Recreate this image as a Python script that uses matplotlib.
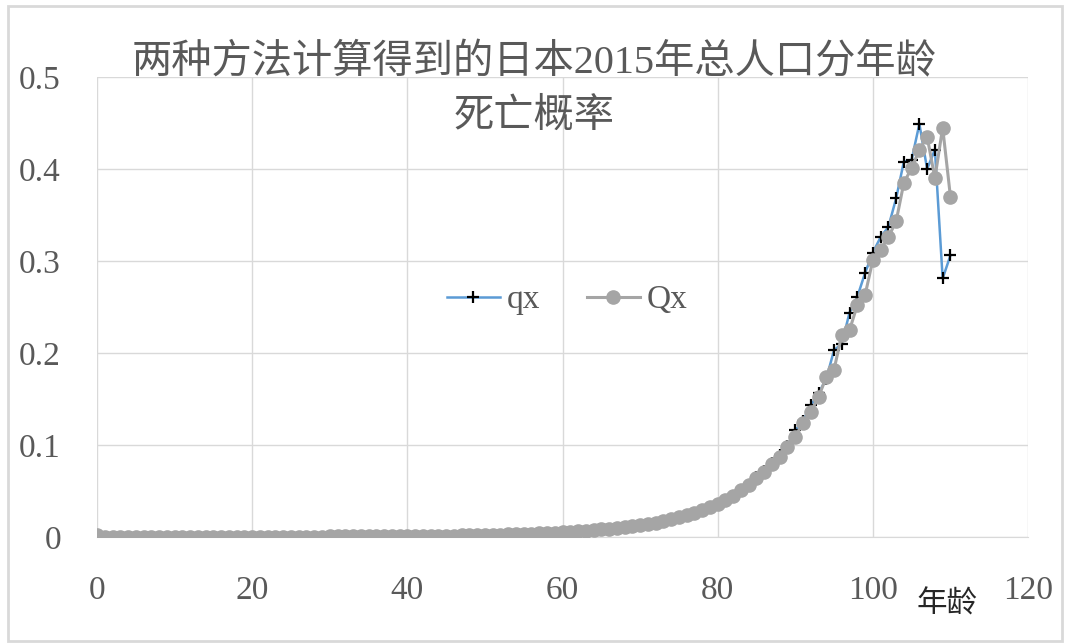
import numpy as np
import matplotlib
matplotlib.use('Agg')
import matplotlib.pyplot as plt
from matplotlib.patches import Rectangle

#---------------------------------------------------------------------#
# Japan 2015 total population, death probability by age, two methods  #
# (qx and Qx).                   #
#---------------------------------------------------------------------#
ages = list(range(0, 111))

Qx = [0.0019, 0.0003, 0.0002, 0.00015, 0.0001, 0.0001, 0.0001, 0.0001, 0.0001, 0.0001,
      0.0001, 0.0001, 0.0001, 0.00012, 0.00014, 0.00017, 0.0002, 0.00025, 0.0003, 0.00036,
      0.0004, 0.00043, 0.00046, 0.00047, 0.00048, 0.00048, 0.00049, 0.0005, 0.00051, 0.00053,
      0.00055, 0.00057, 0.0006, 0.00063, 0.00066, 0.0007, 0.00074, 0.00079, 0.00084, 0.0009,
      0.00097, 0.00105, 0.00114, 0.00124, 0.00135, 0.00147, 0.0016, 0.00175, 0.0019, 0.00207,
      0.00226, 0.00246, 0.00268, 0.00292, 0.00318, 0.00346, 0.00376, 0.0041, 0.00447, 0.00487,
      0.0053, 0.0058, 0.0063, 0.0069, 0.0075, 0.0082, 0.0089, 0.0097, 0.0106, 0.0116,
      0.0128, 0.0141, 0.0156, 0.0173, 0.0192, 0.0214, 0.0237, 0.0262, 0.0290, 0.0322,
      0.0360, 0.0400, 0.0450, 0.0510, 0.0570, 0.0640, 0.0710, 0.0790, 0.0870, 0.0980,
      0.109, 0.124, 0.136, 0.152, 0.174, 0.182, 0.220, 0.225, 0.252, 0.263,
      0.301, 0.312, 0.326, 0.343, 0.385, 0.401, 0.421, 0.435, 0.390, 0.445,
      0.370]

qx = [0.0019, 0.0003, 0.0002, 0.00015, 0.0001, 0.0001, 0.0001, 0.0001, 0.0001, 0.0001,
      0.0001, 0.0001, 0.0001, 0.00012, 0.00014, 0.00017, 0.0002, 0.00025, 0.0003, 0.00036,
      0.0004, 0.00043, 0.00046, 0.00047, 0.00048, 0.00048, 0.00049, 0.0005, 0.00051, 0.00053,
      0.00055, 0.00057, 0.0006, 0.00063, 0.00066, 0.0007, 0.00074, 0.00079, 0.00084, 0.0009,
      0.00097, 0.00105, 0.00114, 0.00124, 0.00135, 0.00147, 0.0016, 0.00175, 0.0019, 0.00207,
      0.00226, 0.00246, 0.00268, 0.00292, 0.00318, 0.00346, 0.00376, 0.0041, 0.00447, 0.00487,
      0.0053, 0.0058, 0.0063, 0.0069, 0.0075, 0.0082, 0.0089, 0.0097, 0.0106, 0.0116,
      0.0128, 0.0141, 0.0156, 0.0173, 0.0192, 0.0214, 0.0237, 0.0262, 0.0290, 0.0322,
      0.0360, 0.0400, 0.0450, 0.0510, 0.0570, 0.0650, 0.0720, 0.0800, 0.0890, 0.0990,
      0.116, 0.126, 0.143, 0.156, 0.172, 0.203, 0.210, 0.244, 0.261, 0.287,
      0.309, 0.326, 0.337, 0.368, 0.408, 0.410, 0.449, 0.400, 0.421, 0.281,
      0.306]

xTicks = [0, 20, 40, 60, 80, 100, 120]
yTicks = [0, 0.1, 0.2, 0.3, 0.4, 0.5]
yTickLabels = ['0', '0.1', '0.2', '0.3', '0.4', '0.5']
chartTitle = '两种方法计算得到的日本2015年总人口分年龄\n死亡概率'
xLabel = '年龄'

serifCJK = ['Liberation Serif', 'Noto Sans CJK SC']
textGray = '#595959'

fig = plt.figure(figsize=(10.65, 6.43), dpi=100)
ax = fig.add_axes([97/1065, 1 - 537/643, 931/1065, 460/643])

#---------------------------------------------------------------------#
# Series: qx underneath, Qx circles on top                            #
#---------------------------------------------------------------------#
ax.plot(ages, qx, color='#5B9BD5', linewidth=1.8, marker='+', markersize=8.5,
        markeredgecolor='black', markeredgewidth=1.6, label='qx', zorder=3)
ax.plot(ages, Qx, color='#A5A5A5', linewidth=2.2, marker='o', markersize=9.5,
        markerfacecolor='#A5A5A5', markeredgecolor='#A5A5A5', label='Qx', zorder=4)

ax.set_xlim(0, 120)
ax.set_ylim(0, 0.5)
ax.set_xticks(xTicks)
ax.set_yticks(yTicks)
ax.set_yticklabels(yTickLabels)
ax.grid(color='#D9D9D9', linewidth=1.0)
ax.set_axisbelow(True)
for side in ['top', 'right', 'left']:
  ax.spines[side].set_visible(False)
ax.spines['bottom'].set_color('#D9D9D9')
ax.tick_params(axis='both', length=0, labelsize=24, labelcolor=textGray)
ax.tick_params(axis='x', pad=28)
ax.tick_params(axis='y', pad=26)
for lab in ax.get_xticklabels() + ax.get_yticklabels():
  lab.set_fontfamily('Liberation Serif')

leg = ax.legend(loc='center', bbox_to_anchor=(0.505, 0.515), ncol=2, frameon=False,
                prop={'family': 'Liberation Serif', 'size': 24}, handlelength=1.6,
                handletextpad=0.2, columnspacing=1.4)
for t in leg.get_texts():
  t.set_color(textGray)

ax.text(0.913, -0.147, xLabel, transform=ax.transAxes, ha='center', va='center',
        fontsize=22, family=serifCJK, color='#262626')

fig.text(534/1065, 1 - 90/643, chartTitle, ha='center', va='center', fontsize=29,
         family=serifCJK, color=textGray, linespacing=1.55, weight='light')

#---------------------------------------------------------------------#
# Outer chart border                                                  #
#---------------------------------------------------------------------#
fig.patches.append(Rectangle((8/1065, 0.003), 1 - 8/1065 - 0.003, 1 - 6/643 - 0.003,
                             transform=fig.transFigure, fill=False,
                             edgecolor='#D9D9D9', linewidth=2))

plt.savefig('out.png', dpi=100)
